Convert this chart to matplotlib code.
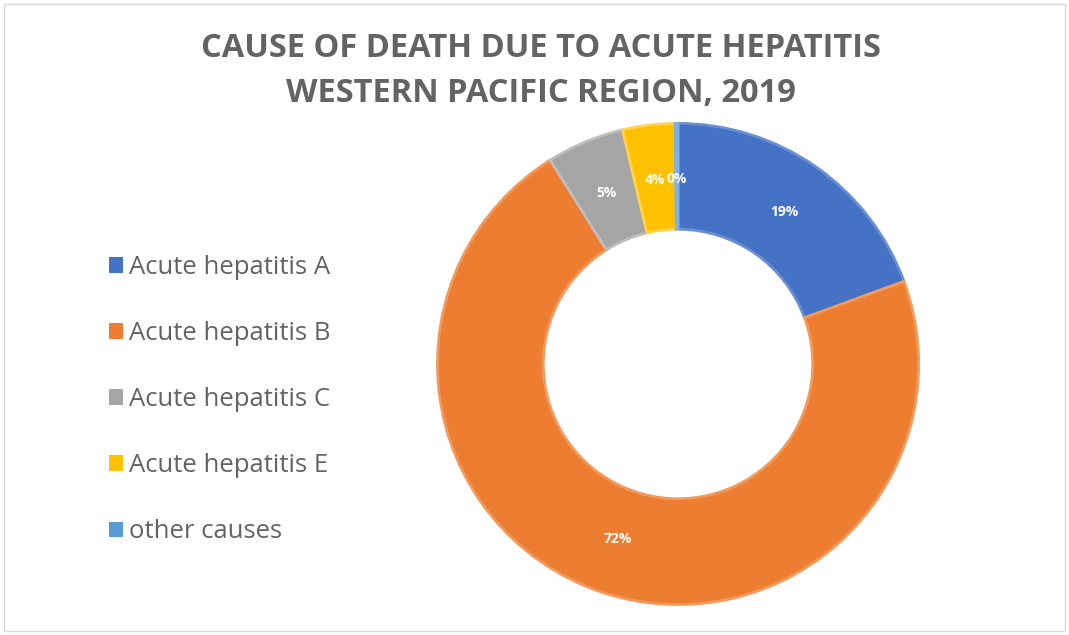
#Donut chart: cause of death due to acute hepatitis, Western Pacific, 2019

#import modules
import matplotlib
matplotlib.use("Agg")
import matplotlib.pyplot as plt
from matplotlib.patches import Patch, Rectangle

#Data
categories = ["Acute hepatitis A", "Acute hepatitis B", "Acute hepatitis C",
              "Acute hepatitis E", "other causes"]
shares = [19.4, 71.6, 5.2, 3.5, 0.2]
colors = ["#4472C4", "#ED7D31", "#A5A5A5", "#FFC000", "#5B9BD5"]
edge_colors = ["#6A8FD3", "#F29A5C", "#BDBDBD", "#FFD24D", "#7FB2E0"]

plt.rcParams['font.family'] = ['Open Sans', 'DejaVu Sans']
gray = "#636363"

fig = plt.figure(figsize=(10.69, 6.35), dpi=100)

#Light frame around the chart area
fig.patches.append(Rectangle((0.004, 0.006), 0.992, 0.988, transform=fig.transFigure,
                             fill=False, edgecolor="#D9D9D9", linewidth=1))

#Axes placed so the ring sits where it is in the reference
ax = fig.add_axes([435 / 1069, 28 / 635, 486 / 1069, 486 / 635])
wedges, texts, autotexts = ax.pie(
    shares, colors=colors, startangle=90, counterclock=False, radius=1.0,
    autopct="%1.0f%%", pctdistance=0.77,
    wedgeprops=dict(width=0.44, linewidth=2),
    textprops=dict(color="white", fontsize=10, fontweight="bold"))
for w, ec in zip(wedges, edge_colors):
    w.set_edgecolor(ec)
ax.set_xlim(-1.01, 1.01)
ax.set_ylim(-1.01, 1.01)
ax.set_aspect("equal")
ax.axis("off")

#Title
fig.text(0.506, 0.924, "CAUSE OF DEATH DUE TO ACUTE HEPATITIS", ha="center", va="center",
         fontsize=23.5, fontweight="bold", color=gray)
fig.text(0.506, 0.852, "WESTERN PACIFIC REGION, 2019", ha="center", va="center",
         fontsize=23.5, fontweight="bold", color=gray)

#Legend on the left
handles = [Patch(facecolor=c, edgecolor="none") for c in colors]
fig.legend(handles, categories, loc="upper left", bbox_to_anchor=(0.08, 0.635),
           frameon=False, fontsize=18.5, labelcolor=gray, handlelength=0.55,
           handleheight=0.55, handletextpad=0.25, labelspacing=1.6)

plt.savefig("out.png", dpi=100)
